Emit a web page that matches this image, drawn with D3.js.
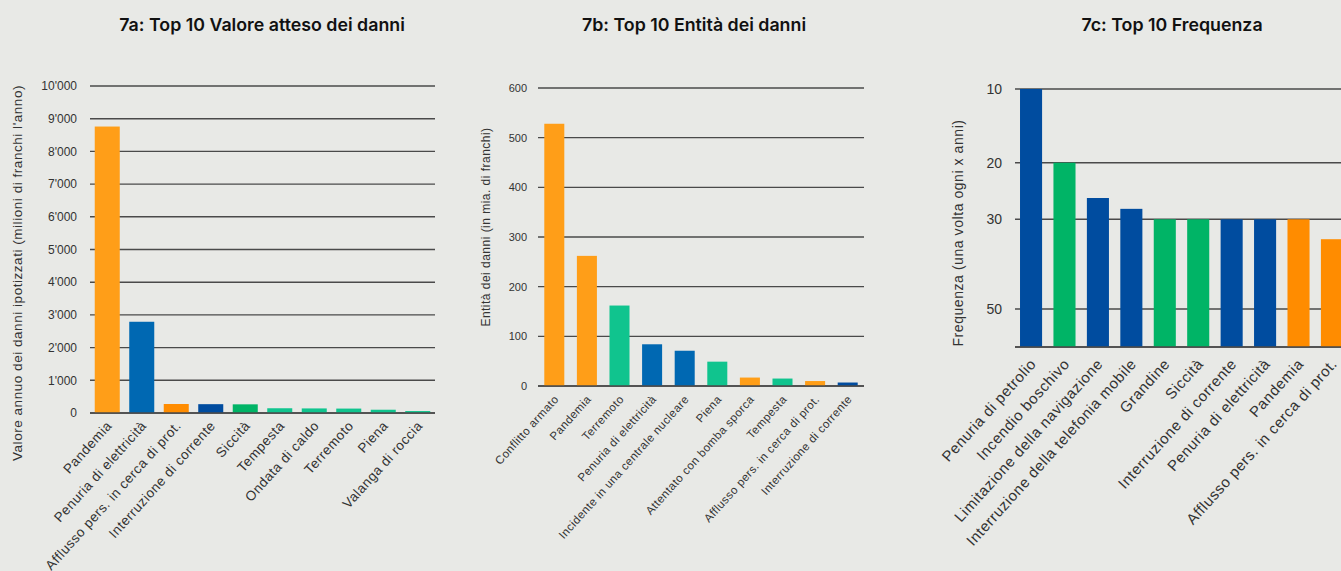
<!DOCTYPE html>
<html>
<head>
<meta charset="utf-8">
<script src="https://cdn.jsdelivr.net/npm/d3@7"></script>
<style>
  html, body { margin: 0; padding: 0; background: #e8e9e6; }
  svg { display: block; }
  text { font-family: "Liberation Sans", Arial, sans-serif; fill: #333; letter-spacing: 0.04em; }
  .title { font-family: Inter, sans-serif; font-weight: 600; font-size: 17.8px; fill: #111; letter-spacing: 0; }
</style>
</head>
<body>
<div id="chart"></div>
<script>
// 7a: expected damage value (million CHF per year)
const catsA = ["Pandemia", "Penuria di elettricità", "Afflusso pers. in cerca di prot.", "Interruzione di corrente",
  "Siccità", "Tempesta", "Ondata di caldo", "Terremoto", "Piena", "Valanga di roccia"];
const valuesA = [8760, 2790, 275, 270, 265, 145, 140, 135, 100, 60];
const groupsA = ["soc", "tec", "soc2", "tec2", "nat", "nat2", "nat2", "nat2", "nat2", "nat2"];
const ticksA = [0, 1000, 2000, 3000, 4000, 5000, 6000, 7000, 8000, 9000, 10000];

// 7b: damage extent (bn CHF)
const catsB = ["Conflitto armato", "Pandemia", "Terremoto", "Penuria di elettricità", "Incidente in una centrale nucleare",
  "Piena", "Attentato con bomba sporca", "Tempesta", "Afflusso pers. in cerca di prot.", "Interruzione di corrente"];
const valuesB = [528, 262, 162, 84, 71, 49, 17, 15, 10, 7];
const groupsB = ["soc", "soc", "nat2", "tec", "tec", "nat2", "soc", "nat2", "soc", "tec2"];
const ticksB = [0, 100, 200, 300, 400, 500, 600];

// 7c: frequency (once every x years)
const catsC = ["Penuria di petrolio", "Incendio boschivo", "Limitazione della navigazione", "Interruzione della telefonia mobile",
  "Grandine", "Siccità", "Interruzione di corrente", "Penuria di elettricità", "Pandemia", "Afflusso pers. in cerca di prot."];
const valuesC = [10, 20, 26, 28, 30, 30, 30, 30, 30, 34];
const groupsC = ["tec2", "nat", "tec2", "tec2", "nat", "nat", "tec2", "tec2", "soc2", "soc2"];
const ticksC = [10, 20, 30, 50];

const W = 1341, H = 571;
const color = d3.scaleOrdinal()
  .domain(["soc", "soc2", "tec", "tec2", "nat", "nat2"])
  .range(["#ff9e18", "#ff8c00", "#0068b2", "#004c9f", "#00b466", "#10c48e"]);

const apos = d3.formatLocale({decimal: ".", thousands: "'", grouping: [3], currency: ["", ""]}).format(",");

const svg = d3.select("#chart").append("svg")
  .attr("width", W)
  .attr("height", H);

const panels = [
  {
    title: "7a: Top 10 Valore atteso dei danni", titleX: 262,
    cats: catsA, values: valuesA, groups: groupsA, ticks: ticksA, fmt: apos,
    y: d3.scaleLinear().domain([0, 10000]).range([413, 86]), base: 0,
    xr: [90, 435], pi: 0.275, po: 0.1375,
    tickFont: 12, tickX: 77, labelFont: 13.5, labelDy: 10,
    yLabel: "Valore annuo dei danni ipotizzati (milioni di franchi l'anno)", yLabelX: 17, yLabelY: 273, yLabelFont: 13.5
  },
  {
    title: "7b: Top 10 Entità dei danni", titleX: 694,
    cats: catsB, values: valuesB, groups: groupsB, ticks: ticksB, fmt: d3.format("d"),
    y: d3.scaleLinear().domain([0, 600]).range([386, 88]), base: 0,
    xr: [538, 864], pi: 0.386, po: 0.193,
    tickFont: 11, tickX: 527, labelFont: 11.5, labelDy: 11,
    yLabel: "Entità dei danni (in mia. di franchi)", yLabelX: 486, yLabelY: 227, yLabelFont: 12
  },
  {
    title: "7c: Top 10 Frequenza", titleX: 1172,
    cats: catsC, values: valuesC, groups: groupsC, ticks: ticksC, fmt: d3.format("d"),
    y: d3.scaleSqrt().domain([10, 60]).range([89, 347]), base: 60,
    xr: [1015, 1348], pi: 0.34, po: 0.15,
    tickFont: 14, tickX: 1002, labelFont: 15, labelDy: 14,
    yLabel: "Frequenza (una volta ogni x anni)", yLabelX: 958, yLabelY: 233, yLabelFont: 14
  }
];

panels.forEach(p => {
  const g = svg.append("g");
  const x = d3.scaleBand().domain(p.cats).range(p.xr).paddingInner(p.pi).paddingOuter(p.po);
  const y = p.y;

  g.append("text")
    .attr("class", "title")
    .attr("x", p.titleX)
    .attr("y", 31)
    .attr("text-anchor", "middle")
    .text(p.title);

  // grid lines
  const axisLine = p.ticks.concat(p.base === 0 ? [] : [p.base]);
  g.selectAll(".grid")
    .data(axisLine)
    .enter()
    .append("line")
    .attr("x1", p.xr[0])
    .attr("x2", p.xr[1])
    .attr("y1", d => y(d))
    .attr("y2", d => y(d))
    .attr("stroke", "#4a4a4a")
    .attr("stroke-width", 1.4);

  g.selectAll(".tick")
    .data(p.ticks)
    .enter()
    .append("text")
    .attr("x", p.tickX)
    .attr("y", d => y(d))
    .attr("dy", "0.35em")
    .attr("text-anchor", "end")
    .style("font-size", p.tickFont + "px")
    .style("letter-spacing", "0")
    .text(d => p.fmt(d));

  // bars
  g.selectAll("rect")
    .data(p.cats)
    .enter()
    .append("rect")
    .attr("x", d => x(d))
    .attr("width", x.bandwidth())
    .attr("y", (d, i) => Math.min(y(p.values[i]), y(p.base)))
    .attr("height", (d, i) => Math.abs(y(p.base) - y(p.values[i])))
    .attr("fill", (d, i) => color(p.groups[i]));

  // base line on top of the bars
  g.append("line")
    .attr("x1", p.xr[0])
    .attr("x2", p.xr[1])
    .attr("y1", y(p.base))
    .attr("y2", y(p.base))
    .attr("stroke", "#4a4a4a")
    .attr("stroke-width", 1.4);

  // rotated category labels
  const yb = y(p.base);
  g.selectAll(".cat")
    .data(p.cats)
    .enter()
    .append("text")
    .attr("text-anchor", "end")
    .attr("transform", d => `translate(${x(d) + x.bandwidth() / 2 + 2},${yb + p.labelDy}) rotate(-48)`)
    .attr("dy", "0.35em")
    .style("font-size", p.labelFont + "px")
    .text(d => d);

  g.append("text")
    .attr("transform", `translate(${p.yLabelX},${p.yLabelY}) rotate(-90)`)
    .attr("text-anchor", "middle")
    .attr("dy", "0.35em")
    .style("font-size", p.yLabelFont + "px")
    .text(p.yLabel);
});
</script>
</body>
</html>
